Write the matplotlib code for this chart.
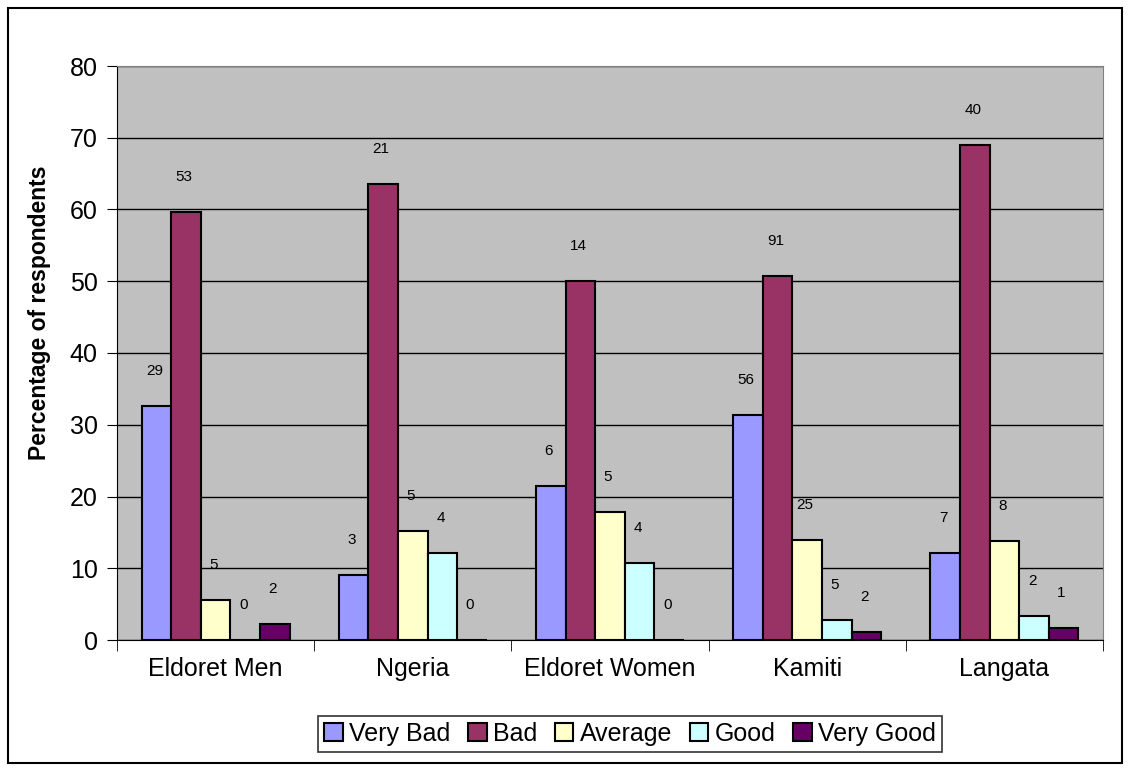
import matplotlib.pyplot as plt
import numpy as np

plt.rcParams['font.family'] = ['Liberation Sans', 'DejaVu Sans']

# categories and series (bar height = percentage, label = number of respondents)
sites = ['Eldoret Men', 'Ngeria', 'Eldoret Women', 'Kamiti', 'Langata']
series = ['Very Bad', 'Bad', 'Average', 'Good', 'Very Good']
colors = ['#9999FF', '#993366', '#FFFFCC', '#CCFFFF', '#660066']

very_bad = [32.6, 9.1, 21.4, 31.3, 12.1]
bad = [59.6, 63.6, 50.0, 50.8, 69.0]
average = [5.6, 15.2, 17.9, 14.0, 13.8]
good = [0.0, 12.1, 10.7, 2.8, 3.4]
very_good = [2.2, 0.0, 0.0, 1.1, 1.7]

n_very_bad = [29, 3, 6, 56, 7]
n_bad = [53, 21, 14, 91, 40]
n_average = [5, 5, 5, 25, 8]
n_good = [0, 4, 4, 5, 2]
n_very_good = [2, 0, 0, 2, 1]

values = [very_bad, bad, average, good, very_good]
counts = [n_very_bad, n_bad, n_average, n_good, n_very_good]

fig = plt.figure(figsize=(11.3, 7.71), dpi=100)
ax = fig.add_axes([117/1130, 1-640/771, (1103-117)/1130, (640-66)/771])

x = np.arange(len(sites))
w = 0.15
for i, s in enumerate(series):
    pos = x + (i - 2) * w
    ax.bar(pos, values[i], w, color=colors[i], edgecolor='black', linewidth=1.5,
           label=s, zorder=3)
    for p, v, c in zip(pos, values[i], counts[i]):
        ax.text(p - 0.01, v + 3.9, str(c), ha='center', va='bottom', fontsize=11)

ax.set_facecolor('#C0C0C0')
ax.set_xlim(-0.5, 4.5)
ax.set_ylim(0, 80)
ax.set_yticks(range(0, 81, 10))
ax.yaxis.grid(True, color='black', linewidth=1, zorder=0)
ax.tick_params(axis='y', labelsize=18, direction='out', length=7, pad=7)
ax.set_xticks(x)
ax.set_xticklabels(sites, fontsize=18)
ax.tick_params(axis='x', length=0, pad=12)
ax.set_xticks(np.arange(-0.5, 5, 1), minor=True)
ax.tick_params(axis='x', which='minor', length=8, direction='out')
for side in ['top', 'right']:
    ax.spines[side].set_color('#808080')
ax.spines['left'].set_color('black')
ax.spines['bottom'].set_color('black')
ax.set_ylabel('Percentage of respondents', fontsize=16.5, fontweight='bold')
ax.yaxis.set_label_coords(-66/986, 0.57)

leg = fig.legend(loc='center', bbox_to_anchor=(630/1130, 1-734/771), ncol=5,
                 fontsize=18, frameon=True, fancybox=False, edgecolor='black',
                 handlelength=0.75, handleheight=0.75, handletextpad=0.25,
                 columnspacing=0.7, borderpad=0.25)
leg.get_frame().set_linewidth(1.2)

# outer border of the chart
fig.patches.append(plt.Rectangle((8/1130, 8/771), 1114/1130, 755/771, transform=fig.transFigure,
                                 fill=False, edgecolor='black', linewidth=1.5))

fig.savefig('out.png', dpi=100)
